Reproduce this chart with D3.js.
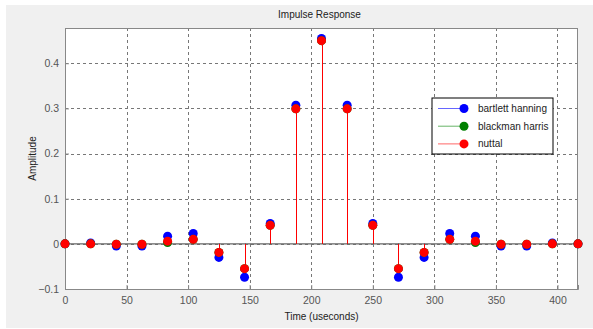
<!DOCTYPE html>
<html>
<head>
<meta charset="utf-8">
<script src="https://cdn.jsdelivr.net/npm/d3@7"></script>
<style>
  html, body { margin: 0; padding: 0; background: #fff; }
  svg { display: block; font-family: "Liberation Sans", Arial, sans-serif; }
</style>
</head>
<body>
<div id="chart"></div>
<script>
// sample times (us), 48 kHz sampling
const times = d3.range(21).map(i => i * 1e6 / 48000);

const bartlettHanning = [0, 0.002, -0.005, -0.005, 0.017, 0.023, -0.030, -0.074, 0.045, 0.307, 0.455,
  0.307, 0.045, -0.074, -0.030, 0.023, 0.017, -0.005, -0.005, 0.002, 0];
const blackmanHarris = [0, 0, -0.001, -0.001, 0.003, 0.010, -0.019, -0.055, 0.041, 0.299, 0.450,
  0.299, 0.041, -0.055, -0.019, 0.010, 0.003, -0.001, -0.001, 0, 0];
const nuttall = [0, 0, -0.001, -0.001, 0.006, 0.010, -0.019, -0.055, 0.041, 0.299, 0.450,
  0.299, 0.041, -0.055, -0.019, 0.010, 0.006, -0.001, -0.001, 0, 0];

const seriesNames = ['bartlett hanning', 'blackman harris', 'nuttal'];
const seriesColors = ['#0000ff', '#008000', '#ff0000'];
const seriesValues = [bartlettHanning, blackmanHarris, nuttall];

const xTicks = [0, 50, 100, 150, 200, 250, 300, 350, 400];
const yTicks = [-0.1, 0, 0.1, 0.2, 0.3, 0.4];

const W = 593, H = 329;
const margin = { top: 28, right: 15, bottom: 40, left: 65 };
const innerW = 578 - margin.left;
const innerH = 289 - margin.top;

const svg = d3.select('#chart').append('svg')
  .attr('width', W)
  .attr('height', H);

// figure background
svg.append('rect')
  .attr('x', 6).attr('y', 5)
  .attr('width', W - 6).attr('height', 323)
  .attr('fill', '#f0f0f0');

const g = svg.append('g')
  .attr('transform', `translate(${margin.left},${margin.top})`);

const x = d3.scaleLinear().domain([0, 20 * 1e6 / 48000]).range([0, innerW]);
const y = d3.scaleLinear().domain([-0.1, 0.478]).range([innerH, 0]);

g.append('rect')
  .attr('width', innerW)
  .attr('height', innerH)
  .attr('fill', '#fff');

// grid lines
g.append('g')
  .selectAll('line')
  .data(xTicks.filter(d => d > 0))
  .enter().append('line')
  .attr('x1', d => Math.round(x(d)) + 0.5)
  .attr('x2', d => Math.round(x(d)) + 0.5)
  .attr('y1', 0).attr('y2', innerH)
  .attr('stroke', '#777')
  .attr('stroke-dasharray', '3,3');

g.append('g')
  .selectAll('line')
  .data(yTicks)
  .enter().append('line')
  .attr('y1', d => Math.round(y(d)) + 0.5)
  .attr('y2', d => Math.round(y(d)) + 0.5)
  .attr('x1', 0).attr('x2', innerW)
  .attr('stroke', '#777')
  .attr('stroke-dasharray', '3,3');

// axes
const xAxis = d3.axisBottom(x).tickValues(xTicks).tickSize(-4).tickPadding(8);
const yAxis = d3.axisLeft(y).tickValues(yTicks).tickSize(-4).tickPadding(6)
  .tickFormat(d => d === 0 ? '0' : d3.format('.1f')(d));

const xg = g.append('g')
  .attr('transform', `translate(0,${innerH})`)
  .call(xAxis);
const yg = g.append('g').call(yAxis);

[xg, yg].forEach(a => {
  a.select('.domain').attr('stroke', '#888');
  a.selectAll('.tick line').attr('stroke', '#888');
  a.selectAll('.tick text')
    .attr('fill', '#555')
    .style('font-size', '10.5px');
});

// top/right frame
g.append('line').attr('x1', 0).attr('x2', innerW).attr('y1', 0.5).attr('y2', 0.5).attr('stroke', '#888');
g.append('line').attr('x1', innerW - 0.5).attr('x2', innerW - 0.5).attr('y1', 0).attr('y2', innerH).attr('stroke', '#888');

// stem baseline
g.append('line')
  .attr('x1', 0).attr('x2', innerW)
  .attr('y1', y(0)).attr('y2', y(0))
  .attr('stroke', '#666')
  .attr('stroke-width', 1.2);

// stems and markers
seriesValues.forEach((vals, s) => {
  const sg = g.append('g');
  sg.selectAll('line')
    .data(vals)
    .enter().append('line')
    .attr('x1', (d, i) => Math.round(x(times[i])) + 0.5)
    .attr('x2', (d, i) => Math.round(x(times[i])) + 0.5)
    .attr('y1', y(0))
    .attr('y2', d => y(d))
    .attr('stroke', seriesColors[s])
    .attr('stroke-width', 1);
});
seriesValues.forEach((vals, s) => {
  g.append('g').selectAll('circle')
    .data(vals)
    .enter().append('circle')
    .attr('cx', (d, i) => x(times[i]))
    .attr('cy', d => y(d))
    .attr('r', 4.5)
    .attr('fill', seriesColors[s]);
});

// title and labels
svg.append('text')
  .attr('x', margin.left + innerW / 2 - 2)
  .attr('y', 18)
  .attr('text-anchor', 'middle')
  .style('font-size', '10px')
  .attr('fill', '#222')
  .text('Impulse Response');

svg.append('text')
  .attr('x', margin.left + innerW / 2)
  .attr('y', 320)
  .attr('text-anchor', 'middle')
  .style('font-size', '10px')
  .attr('fill', '#222')
  .text('Time (useconds)');

svg.append('text')
  .attr('transform', `translate(36,${margin.top + innerH / 2}) rotate(-90)`)
  .attr('text-anchor', 'middle')
  .style('font-size', '10px')
  .attr('fill', '#222')
  .text('Amplitude');

// legend
const legend = svg.append('g').attr('transform', 'translate(432,98)');
legend.append('rect')
  .attr('width', 121).attr('height', 56)
  .attr('fill', '#fff')
  .attr('stroke', '#000');
const items = legend.selectAll('.item')
  .data(seriesNames)
  .enter().append('g')
  .attr('class', 'item')
  .attr('transform', (d, i) => `translate(0,${10.5 + i * 17.7})`);
items.append('line')
  .attr('x1', 6).attr('x2', 33)
  .attr('stroke', (d, i) => seriesColors[i])
  .attr('stroke-opacity', 0.6);
items.append('circle')
  .attr('cx', 32).attr('r', 4.5)
  .attr('fill', (d, i) => seriesColors[i]);
items.append('text')
  .attr('x', 46).attr('dy', '0.35em')
  .style('font-size', '10px')
  .attr('fill', '#222')
  .text(d => d);
</script>
</body>
</html>
